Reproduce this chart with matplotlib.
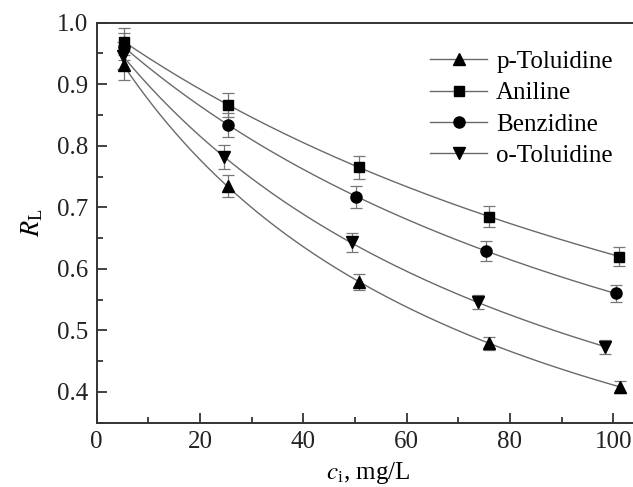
import numpy as np
import matplotlib
matplotlib.use("Agg")
import matplotlib.pyplot as plt

plt.rcParams["font.family"] = ["Liberation Serif", "DejaVu Serif"]
plt.rcParams["mathtext.fontset"] = "stix"

# Initial concentration c_i (mg/L) and separation factor R_L for each amine
series_names = ["p-Toluidine", "Aniline", "Benzidine", "o-Toluidine"]

c_p_toluidine = [5.2, 25.5, 50.8, 76.0, 101.3]
rl_p_toluidine = [0.931, 0.735, 0.579, 0.479, 0.408]
err_p_toluidine = [0.024, 0.018, 0.013, 0.011, 0.010]

c_aniline = [5.3, 25.5, 50.8, 76.0, 101.2]
rl_aniline = [0.969, 0.866, 0.765, 0.685, 0.620]
err_aniline = [0.022, 0.020, 0.019, 0.017, 0.016]

c_benzidine = [5.3, 25.4, 50.3, 75.4, 100.5]
rl_benzidine = [0.961, 0.834, 0.717, 0.629, 0.560]
err_benzidine = [0.022, 0.020, 0.018, 0.016, 0.014]

c_o_toluidine = [5.0, 24.7, 49.4, 73.8, 98.4]
rl_o_toluidine = [0.946, 0.782, 0.643, 0.546, 0.473]
err_o_toluidine = [0.022, 0.020, 0.015, 0.012, 0.012]

markers = ["^", "s", "o", "v"]
marker_sizes = [9, 7, 8, 9]

x_ticks = [0, 20, 40, 60, 80, 100]
y_ticks = [0.4, 0.5, 0.6, 0.7, 0.8, 0.9, 1.0]

data = [
    (c_p_toluidine, rl_p_toluidine, err_p_toluidine),
    (c_aniline, rl_aniline, err_aniline),
    (c_benzidine, rl_benzidine, err_benzidine),
    (c_o_toluidine, rl_o_toluidine, err_o_toluidine),
]

fig = plt.figure(figsize=(6.33, 4.87), dpi=100)
ax = fig.add_axes([96.7 / 633, 1 - 422.7 / 487, 542.3 / 633, 400 / 487])

line_color = "#6a6a6a"
err_color = "#777777"

for name, (c, rl, err), mk, ms in zip(series_names, data, markers, marker_sizes):
    c = np.asarray(c)
    rl = np.asarray(rl)
    # Langmuir separation factor fit: R_L = 1 / (1 + K_L * c)
    k = np.sum(c * (1.0 / rl - 1.0)) / np.sum(c ** 2)
    cc = np.linspace(c.min(), c.max(), 200)
    ax.plot(cc, 1.0 / (1.0 + k * cc), color=line_color, lw=1.0, zorder=2)
    ax.errorbar(c, rl, yerr=err, fmt="none", ecolor=err_color, elinewidth=0.9,
                capsize=4, capthick=0.9, zorder=3)
    ax.plot(c, rl, linestyle="none", marker=mk, markersize=ms, color="black",
            zorder=4)
    ax.plot([], [], color=line_color, lw=1.0, marker=mk, markersize=ms,
            markerfacecolor="black", markeredgecolor="black", label=name)

ax.set_xlim(0, 105)
ax.set_ylim(0.35, 1.0)
ax.set_xticks(x_ticks)
ax.set_yticks(y_ticks)
ax.set_xticks(np.arange(10, 105, 20), minor=True)
ax.set_yticks(np.arange(0.35, 1.0, 0.1), minor=True)
ax.set_yticklabels([f"{v:.1f}" for v in y_ticks])

ax.tick_params(which="both", direction="in", top=False, right=False,
               labelsize=18, width=1.2, colors="#222222")
ax.tick_params(which="major", length=7, pad=6)
ax.tick_params(which="minor", length=4)
for s in ax.spines.values():
    s.set_linewidth(1.4)
    s.set_color("#333333")

ax.set_xlabel(r"$c_\mathregular{i}$, mg/L", fontsize=18, labelpad=5)
ax.set_ylabel(r"$R_\mathregular{L}$", fontsize=19, labelpad=9)

leg = ax.legend(loc="upper right", bbox_to_anchor=(0.97, 0.955), frameon=False,
                fontsize=18, handlelength=2.3, handletextpad=0.35,
                labelspacing=0.35, borderaxespad=0.0)

fig.savefig("out.png", dpi=100)
